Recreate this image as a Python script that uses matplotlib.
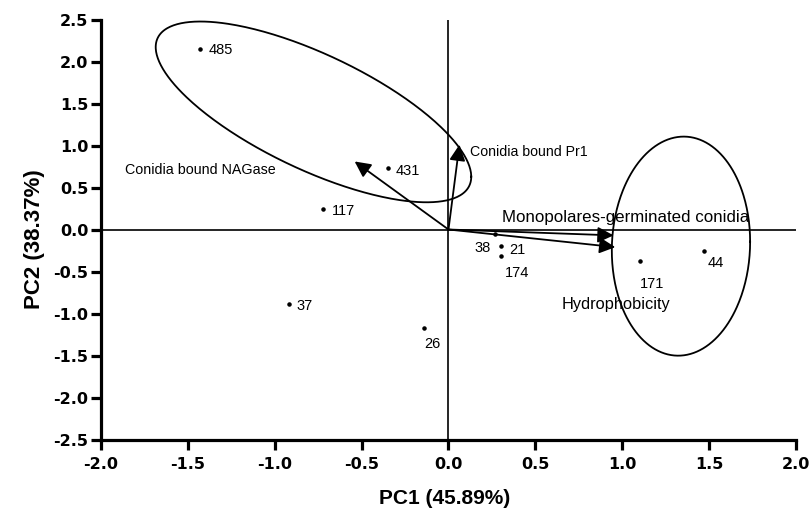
import numpy as np
import matplotlib.pyplot as plt

plt.rcParams['font.family'] = ['Liberation Sans', 'DejaVu Sans']

# scores
labels = ['485', '431', '117', '37', '26', '38', '21', '174', '171', '44']
pc1 = [-1.43, -0.35, -0.72, -0.92, -0.14, 0.27, 0.30, 0.30, 1.10, 1.47]
pc2 = [2.15, 0.73, 0.24, -0.89, -1.17, -0.05, -0.20, -0.32, -0.38, -0.25]
# label offsets (points)
lab_off = [(6, -6), (6, -7), (6, -6), (6, -6), (0, -17), (-15, -15), (6, -8), (3, -17), (0, -21), (3, -14)]

# loadings
var_names = ['Conidia bound Pr1', 'Conidia bound NAGase', 'Monopolares-germinated conidia', 'Hydrophobicity']
load1 = [0.063, -0.54, 0.95, 0.96]
load2 = [1.01, 0.81, -0.07, -0.21]
var_text_pos = [(0.125, 0.87), (-1.86, 0.66), (0.31, 0.09), (0.65, -0.95)]
var_size = [10.2, 10.3, 12.2, 11.8]

fig = plt.figure(figsize=(8.11, 5.12), dpi=100)
ax = fig.add_axes([0.1245, 0.1416, 0.857, 0.8203])

ax.axhline(0, color='black', lw=1.2)
ax.axvline(0, color='black', lw=1.2)

ax.scatter(pc1, pc2, s=5, color='black', zorder=3)
for lab, x, y, off in zip(labels, pc1, pc2, lab_off):
    ax.annotate(lab, (x, y), xytext=off, textcoords='offset points', fontsize=10.5, va='bottom')

for name, x, y, tp, fs in zip(var_names, load1, load2, var_text_pos, var_size):
    ax.annotate('', xy=(x, y), xytext=(0, 0),
                arrowprops=dict(arrowstyle='-|>', color='black', lw=1.3, mutation_scale=24, shrinkA=0, shrinkB=0))
    ax.text(tp[0], tp[1], name, fontsize=fs)

# ellipses: x = cx + W cos t, y = cy + H cos(t + phi)
t = np.linspace(0, 2 * np.pi, 400)
for cx, cy, W, H, phi in [(-0.777, 1.40, 0.908, 1.076, 2.37), (1.338, -0.198, 0.398, 1.304, np.pi / 2 - 0.04)]:
    ax.plot(cx + W * np.cos(t), cy + H * np.cos(t + phi), color='black', lw=1.3)

ax.set_xlim(-2, 2)
ax.set_ylim(-2.5, 2.5)
ax.set_xticks(np.arange(-2, 2.01, 0.5))
ax.set_yticks(np.arange(-2.5, 2.51, 0.5))
ax.xaxis.set_major_formatter(plt.FormatStrFormatter('%.1f'))
ax.yaxis.set_major_formatter(plt.FormatStrFormatter('%.1f'))
for s in ['top', 'right']:
    ax.spines[s].set_visible(False)
for s in ['left', 'bottom']:
    ax.spines[s].set_linewidth(2.3)
ax.tick_params(width=2.3, length=7.5)
ax.tick_params(axis='y', pad=1.5)
ax.tick_params(axis='x', pad=5)
for lab in ax.get_xticklabels() + ax.get_yticklabels():
    lab.set_fontweight('bold')
    lab.set_family('DejaVu Sans')
    lab.set_fontsize(11.5)
ax.set_xlabel('PC1 (45.89%)', fontsize=15, fontweight='bold')
ax.set_ylabel('PC2 (38.37%)', fontsize=16, fontweight='bold')
ax.xaxis.set_label_coords(0.495, -0.118)
ax.yaxis.set_label_coords(-0.081, 0.477)

fig.savefig('out.png', dpi=100)
